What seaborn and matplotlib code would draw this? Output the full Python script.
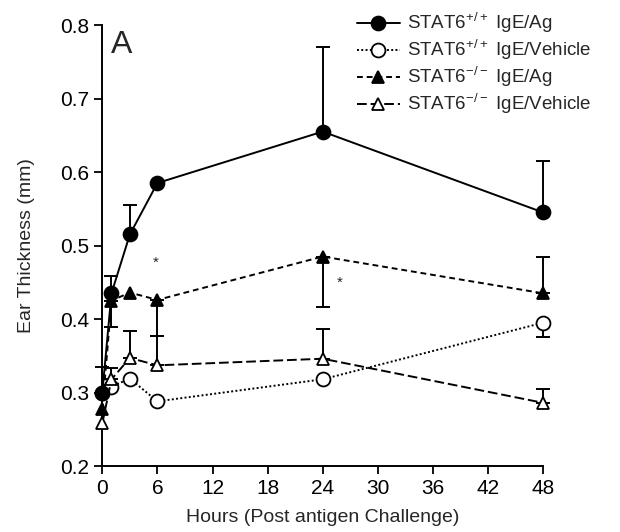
import numpy as np
import pandas as pd
import seaborn as sns
import matplotlib.pyplot as plt

# time points (hours post challenge)
hours = [0, 1, 3, 6, 24, 48]

# STAT6+/+ IgE/Ag
wt_ag = [0.300, 0.435, 0.515, 0.585, 0.655, 0.545]
wt_ag_up = [0.035, 0.023, 0.040, 0.000, 0.115, 0.070]

# STAT6+/+ IgE/Vehicle
wt_veh = [0.300, 0.308, 0.319, 0.288, 0.318, 0.395]
wt_veh_low = [0.000, 0.000, 0.000, 0.000, 0.000, 0.020]

# STAT6-/- IgE/Ag
ko_ag = [0.277, 0.425, 0.436, 0.426, 0.485, 0.435]
ko_ag_low = [0.000, 0.036, 0.000, 0.049, 0.069, 0.000]
ko_ag_up = [0.000, 0.000, 0.000, 0.000, 0.000, 0.050]

# STAT6-/- IgE/Vehicle
ko_veh = [0.258, 0.318, 0.347, 0.337, 0.346, 0.286]
ko_veh_up = [0.000, 0.016, 0.037, 0.040, 0.040, 0.019]

labels = [r"STAT6$^{+/+}$ IgE/Ag", r"STAT6$^{+/+}$ IgE/Vehicle",
          r"STAT6$^{-/-}$ IgE/Ag", r"STAT6$^{-/-}$ IgE/Vehicle"]

sns.set_style("ticks")
plt.rcParams['font.family'] = ['Liberation Sans', 'DejaVu Sans']
plt.rcParams['mathtext.fontset'] = 'custom'
plt.rcParams['mathtext.rm'] = 'Liberation Sans'

fig = plt.figure(figsize=(6.2, 5.32), dpi=100)
ax = fig.add_axes([0.165, 0.124, 0.711, 0.829])

# values, lower err, upper err, marker, face colour, line style, z-order
series = [
    (wt_ag, [0] * 6, wt_ag_up, 'o', 'black', '-', 6),
    (wt_veh, wt_veh_low, [0] * 6, 'o', 'white', (0, (1, 1.2)), 3),
    (ko_ag, ko_ag_low, ko_ag_up, '^', 'black', (0, (3, 2)), 5),
    (ko_veh, [0] * 6, ko_veh_up, '^', 'white', (0, (5, 2)), 4),
]

# error bars first so markers sit on top
for vals, low, up, m, fc, ls, z in series:
    low_a = np.array(low)
    up_a = np.array(up)
    keep = (low_a > 0) | (up_a > 0)
    ax.errorbar(np.array(hours)[keep], np.array(vals)[keep],
                yerr=[low_a[keep], up_a[keep]], fmt='none', ecolor='black',
                elinewidth=1.4, capsize=5, capthick=1.4, zorder=2, clip_on=False)

for (vals, low, up, m, fc, ls, z), lab in zip(series, labels):
    df = pd.DataFrame({'hours': hours, 'thick': vals})
    sns.lineplot(data=df, x='hours', y='thick', ax=ax, color='black',
                 linewidth=1.4, linestyle=ls, marker=m, markersize=10 if m == 'o' else 9,
                 markerfacecolor=fc, markeredgecolor='black', markeredgewidth=1.3,
                 label=lab, zorder=z, clip_on=False)

# significance marks
ax.text(5.8, 0.476, '*', fontsize=11, ha='center', va='center')
ax.text(25.9, 0.449, '*', fontsize=11, ha='center', va='center')
ax.text(0.9, 0.773, 'A', fontsize=23, ha='left', va='center')

ax.set_xlim(0, 48)
ax.set_ylim(0.2, 0.8)
ax.set_xticks(range(0, 49, 6))
ax.set_yticks([0.2, 0.3, 0.4, 0.5, 0.6, 0.7, 0.8])
ax.set_yticklabels(['0.2', '0.3', '0.4', '0.5', '0.6', '0.7', '0.8'])
ax.tick_params(labelsize=15, width=1.3, length=6, color='black', labelcolor='black')
for s in ['left', 'bottom']:
    ax.spines[s].set_linewidth(1.4)
    ax.spines[s].set_color('black')
sns.despine(ax=ax)

ax.set_xlabel('Hours (Post antigen Challenge)', fontsize=14, labelpad=8)
ax.set_ylabel('Ear Thickness (mm)', fontsize=14, labelpad=18)

leg = ax.legend(loc='upper left', bbox_to_anchor=(0.56, 1.05), frameon=False,
                fontsize=13.5, handlelength=2.3, handletextpad=0.4,
                labelspacing=0.12, borderaxespad=0)

plt.savefig('out.png', dpi=100)
